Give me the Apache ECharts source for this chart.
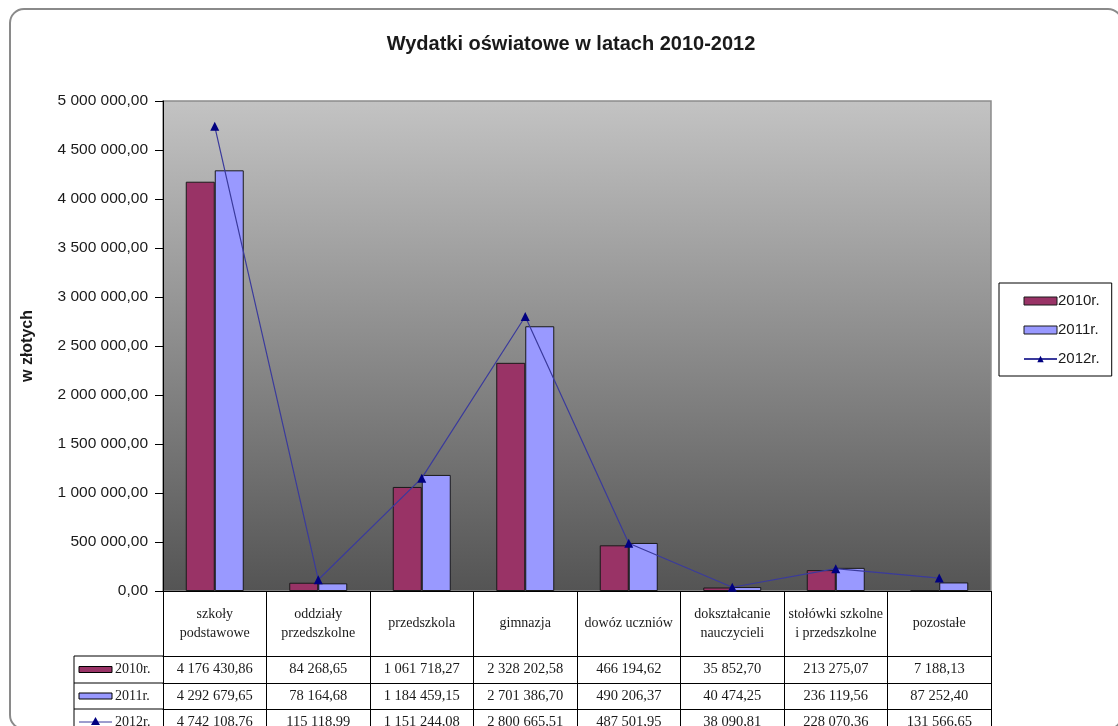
<!DOCTYPE html>
<html>
<head>
<meta charset="utf-8">
<script src="https://cdn.jsdelivr.net/npm/echarts@6/dist/echarts.min.js"></script>
<style>
	html, body { margin: 0; padding: 0; background: #fff; }
	#chart { width: 1118px; height: 726px; }
</style>
</head>
<body>
<div id="chart"></div>
<script>
const categories = [
	'szkoły\npodstawowe', 'oddziały\nprzedszkolne', 'przedszkola', 'gimnazja',
	'dowóz uczniów', 'dokształcanie\nnauczycieli', 'stołówki szkolne\ni przedszkolne', 'pozostałe'
];
const seriesNames = ['2010r.', '2011r.', '2012r.'];
const values2010 = [4176430.86, 84268.65, 1061718.27, 2328202.58, 466194.62, 35852.70, 213275.07, 7188.13];
const values2011 = [4292679.65, 78164.68, 1184459.15, 2701386.70, 490206.37, 40474.25, 236119.56, 87252.40];
const values2012 = [4742108.76, 115118.99, 1151244.08, 2800665.51, 487501.95, 38090.81, 228070.36, 131566.65];
const yMin = 0, yMax = 5000000, yStep = 500000;

const BAR_2010 = '#993366';
const BAR_2011 = '#9999ff';
const LINE_2012 = '#3a3a9c';
const MARK_2012 = '#000080';
const SERIF = '"Liberation Serif", "Times New Roman", serif';
const SANS = '"Liberation Sans", Arial, sans-serif';

// layout of plot + data table under it
const grid = { left: 163, top: 101, right: 127, bottom: 135 };
const axisY = 726 - grid.bottom;
const headerH = 65;
const rowOffsets = [65, 92, 118];
const rowHeights = [27, 26, 26];
const tableLeft = 74;

function fmt(v) {
	const [i, d] = v.toFixed(2).split('.');
	return i.replace(/\B(?=(\d{3})+(?!\d))/g, ' ') + ',' + d;
}

const rows = [values2010, values2011, values2012];
const swatchColors = [BAR_2010, BAR_2011, null];

// left column of the data table (legend keys)
const tableGraphics = [];
rows.forEach((vals, i) => {
	const top = axisY + rowOffsets[i];
	const mid = top + rowHeights[i] / 2;
	tableGraphics.push({
		type: 'line', shape: { x1: tableLeft, y1: top, x2: grid.left, y2: top },
		style: { stroke: '#000', lineWidth: 1 }
	});
	if (swatchColors[i]) {
		tableGraphics.push({
			type: 'rect', shape: { x: tableLeft + 5, y: mid - 3, width: 33, height: 6 },
			style: { fill: swatchColors[i], stroke: '#000', lineWidth: 1 }
		});
	} else {
		tableGraphics.push({
			type: 'line', shape: { x1: tableLeft + 5, y1: mid, x2: tableLeft + 38, y2: mid },
			style: { stroke: LINE_2012, lineWidth: 1 }
		});
		tableGraphics.push({
			type: 'polygon', shape: { points: [[tableLeft + 21.5, mid - 5], [tableLeft + 26, mid + 3], [tableLeft + 17, mid + 3]] },
			style: { fill: MARK_2012 }
		});
	}
	tableGraphics.push({
		type: 'text', x: tableLeft + 41, y: mid,
		style: { text: seriesNames[i], font: '14px ' + SERIF, fill: '#1a1a1a', verticalAlign: 'middle' }
	});
});
tableGraphics.push({
	type: 'line', shape: { x1: tableLeft, y1: axisY + headerH, x2: tableLeft, y2: 726 },
	style: { stroke: '#000', lineWidth: 1 }
});

const chart = echarts.init(document.getElementById('chart'));

const rowAxes = rows.map((vals, i) => ({
	type: 'category',
	data: categories,
	position: 'bottom',
	offset: rowOffsets[i],
	axisLine: { show: true, lineStyle: { color: '#000', width: 1 } },
	axisTick: { show: true, interval: 0, length: rowHeights[i], lineStyle: { color: '#000' } },
	axisLabel: {
		interval: 0,
		margin: rowHeights[i] / 2,
		verticalAlign: 'middle',
		formatter: (v, idx) => fmt(vals[idx]),
		fontFamily: SERIF, fontSize: 14.5, color: '#1a1a1a'
	},
	splitLine: { show: false }
}));

chart.setOption({
	backgroundColor: '#fff',
	animation: false,
	title: {
		text: 'Wydatki oświatowe w latach 2010-2012',
		left: 566, top: 29, textAlign: 'center',
		textStyle: { fontFamily: SANS, fontSize: 20, fontWeight: 'bold', color: '#1a1a1a' }
	},
	legend: {
		orient: 'vertical',
		left: 999, top: 283,
		padding: [9, 12, 8, 24],
		itemWidth: 33, itemHeight: 8, itemGap: 11,
		borderColor: '#000', borderWidth: 1,
		itemStyle: { borderWidth: 1 },
		textStyle: { fontFamily: SANS, fontSize: 15, color: '#1a1a1a', lineHeight: 18, padding: [0, 0, 0, -4] },
		data: [
			{ name: seriesNames[0], icon: 'rect' },
			{ name: seriesNames[1], icon: 'rect' },
			{ name: seriesNames[2] }
		]
	},
	grid: {
		left: grid.left, top: grid.top, right: grid.right, bottom: grid.bottom,
		outerBoundsMode: 'none',
		containLabel: false,
		show: true,
		borderColor: '#8c8c8c', borderWidth: 1.5,
		backgroundColor: {
			type: 'linear', x: 0, y: 0, x2: 0, y2: 1,
			colorStops: [{ offset: 0, color: '#c3c3c3' }, { offset: 1, color: '#545454' }]
		}
	},
	xAxis: [{
		type: 'category',
		data: categories,
		position: 'bottom',
		axisLine: { show: true, lineStyle: { color: '#000', width: 1 } },
		axisTick: { show: true, interval: 0, length: headerH, lineStyle: { color: '#000' } },
		axisLabel: {
			interval: 0,
			margin: headerH / 2,
			verticalAlign: 'middle',
			fontFamily: SERIF, fontSize: 14, lineHeight: 19, color: '#1a1a1a', align: 'center'
		},
		splitLine: { show: false }
	}, ...rowAxes],
	yAxis: {
		type: 'value',
		min: yMin, max: yMax, interval: yStep,
		name: 'w złotych',
		nameLocation: 'middle',
		nameGap: 127,
		nameRotate: 90,
		nameTextStyle: { fontFamily: SANS, fontSize: 16, fontWeight: 'bold', color: '#1a1a1a' },
		axisLine: { show: true, lineStyle: { color: '#000', width: 1 } },
		axisTick: { show: true, length: 8, lineStyle: { color: '#000' } },
		axisLabel: { formatter: fmt, margin: 15, fontFamily: SANS, fontSize: 15.5, color: '#1a1a1a' },
		splitLine: { show: false }
	},
	graphic: [{
		type: 'rect',
		shape: { x: 10, y: 9, width: 1112, height: 720, r: 14 },
		style: { fill: 'none', stroke: '#8a8a8a', lineWidth: 2 },
		z: -1
	}, ...tableGraphics],
	series: [{
		name: seriesNames[0],
		type: 'bar',
		data: values2010,
		barWidth: 29,
		barGap: '0%',
		itemStyle: { color: BAR_2010, borderColor: '#1a1a1a', borderWidth: 1 }
	}, {
		name: seriesNames[1],
		type: 'bar',
		data: values2011,
		barWidth: 29,
		barGap: '0%',
		itemStyle: { color: BAR_2011, borderColor: '#1a1a1a', borderWidth: 1 }
	}, {
		name: seriesNames[2],
		type: 'line',
		data: values2012,
		symbol: 'triangle',
		symbolSize: 9,
		z: 5,
		lineStyle: { color: LINE_2012, width: 1.2 },
		itemStyle: { color: MARK_2012 }
	}]
});
</script>
</body>
</html>
